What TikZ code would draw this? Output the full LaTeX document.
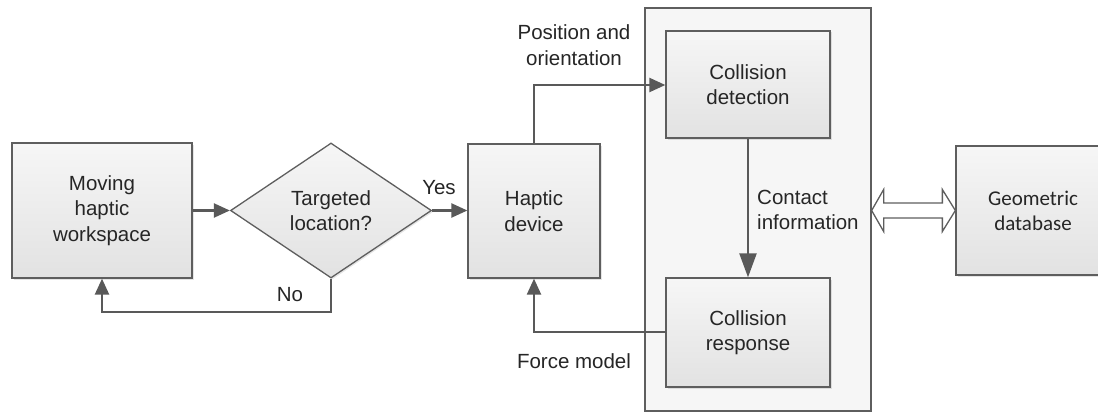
\documentclass[tikz,border=0pt]{standalone}
\usepackage{fontspec}
\setmainfont{Liberation Sans}
\newfontfamily\calib{Carlito}
\usetikzlibrary{arrows.meta,shapes.geometric,calc,shadows}
\definecolor{edge}{HTML}{5E5E5E}
\definecolor{arr}{HTML}{595959}
\definecolor{txt}{HTML}{262626}
\definecolor{ftop}{HTML}{F6F6F6}
\definecolor{fbot}{HTML}{E2E2E2}
\begin{document}
\begin{tikzpicture}[x=1pt,y=-1pt,
  every node/.style={text=txt,font=\fontsize{20.5}{25.5}\selectfont},
  blk/.style={draw=edge,line width=1.3pt,top color=ftop,bottom color=fbot,
    align=center,inner sep=0pt,
    drop shadow={shadow xshift=1.5pt,shadow yshift=-1.5pt,fill=black,opacity=0.10}},
  flow/.style={draw=arr,line width=2.3pt,-{Triangle[length=16pt,width=14pt]}},
  lbl/.style={align=center,inner sep=0pt}]
\useasboundingbox (0,0) rectangle (1098,412);
\clip (0,0) rectangle (1098,412);
\fill[white] (0,0) rectangle (1098,412);
% big container
\node[draw=edge,line width=1.3pt,fill=white!96.5!black,minimum width=226pt,minimum height=403pt,inner sep=0pt] (big) at (758,209.5) {};
\node[blk,minimum width=180pt,minimum height=135pt] (mhw) at (102,210.5) {Moving\\haptic\\workspace};
\node[blk,shape=diamond,aspect=1.49,minimum width=201pt,minimum height=135pt] (dec) at (331,210.5) {Targeted\\location?};
\node[blk,minimum width=132pt,minimum height=134pt] (hap) at (534,211) {Haptic\\device};
\node[blk,minimum width=164pt,minimum height=107pt] (cd) at (748,84.5) {Collision\\detection};
\node[blk,minimum width=164pt,minimum height=109pt] (cr) at (748,332.5) {Collision\\response};
\node[blk,minimum width=154pt,minimum height=129pt,font=\calib\fontsize{21}{25}\selectfont] (geo) at (1033,210.5) {Geometric\\database};
% connectors
\draw[flow] (mhw.east) -- (dec.west);
\draw[flow] (dec.east) -- (hap.west |- dec.east);
\coordinate (nofoot) at (331,312);
\draw[flow] (dec.south) -- (nofoot) -- (mhw.south |- nofoot) -- (mhw.south);
\coordinate (pbend) at (534,85);
\draw[flow] (hap.north) -- (pbend) -- (cd.west |- pbend);
\draw[draw=arr,line width=2.3pt,-{Triangle[length=24pt,width=17pt]}] (cd.south) -- (cr.north);
\coordinate (fstart) at (666,332);
\draw[flow] (fstart) -- (hap.south |- fstart) -- (hap.south);
% double arrow
\coordinate (L) at (big.east |- geo.west);
\coordinate (R) at (geo.west);
\draw[edge,line width=1.3pt,fill=white]
  (L) -- ($(L)+(12,-21)$) -- ($(L)+(12,-7.5)$) -- ($(R)+(-13,-7.5)$) -- ($(R)+(-13,-21)$) -- (R)
  -- ($(R)+(-13,21)$) -- ($(R)+(-13,7.5)$) -- ($(L)+(12,7.5)$) -- ($(L)+(12,21)$) -- cycle;
% labels
\node[lbl] (yes) at (439,188) {Yes};
\node[lbl] (no) at (290,295) {No};
\node[lbl] (pos) at (574,45) {Position and\\orientation};
\node[lbl,align=left,anchor=west] (ci) at (757,210) {Contact\\information};
\node[lbl] (fm) at (574,361) {Force model};
\end{tikzpicture}
\end{document}
